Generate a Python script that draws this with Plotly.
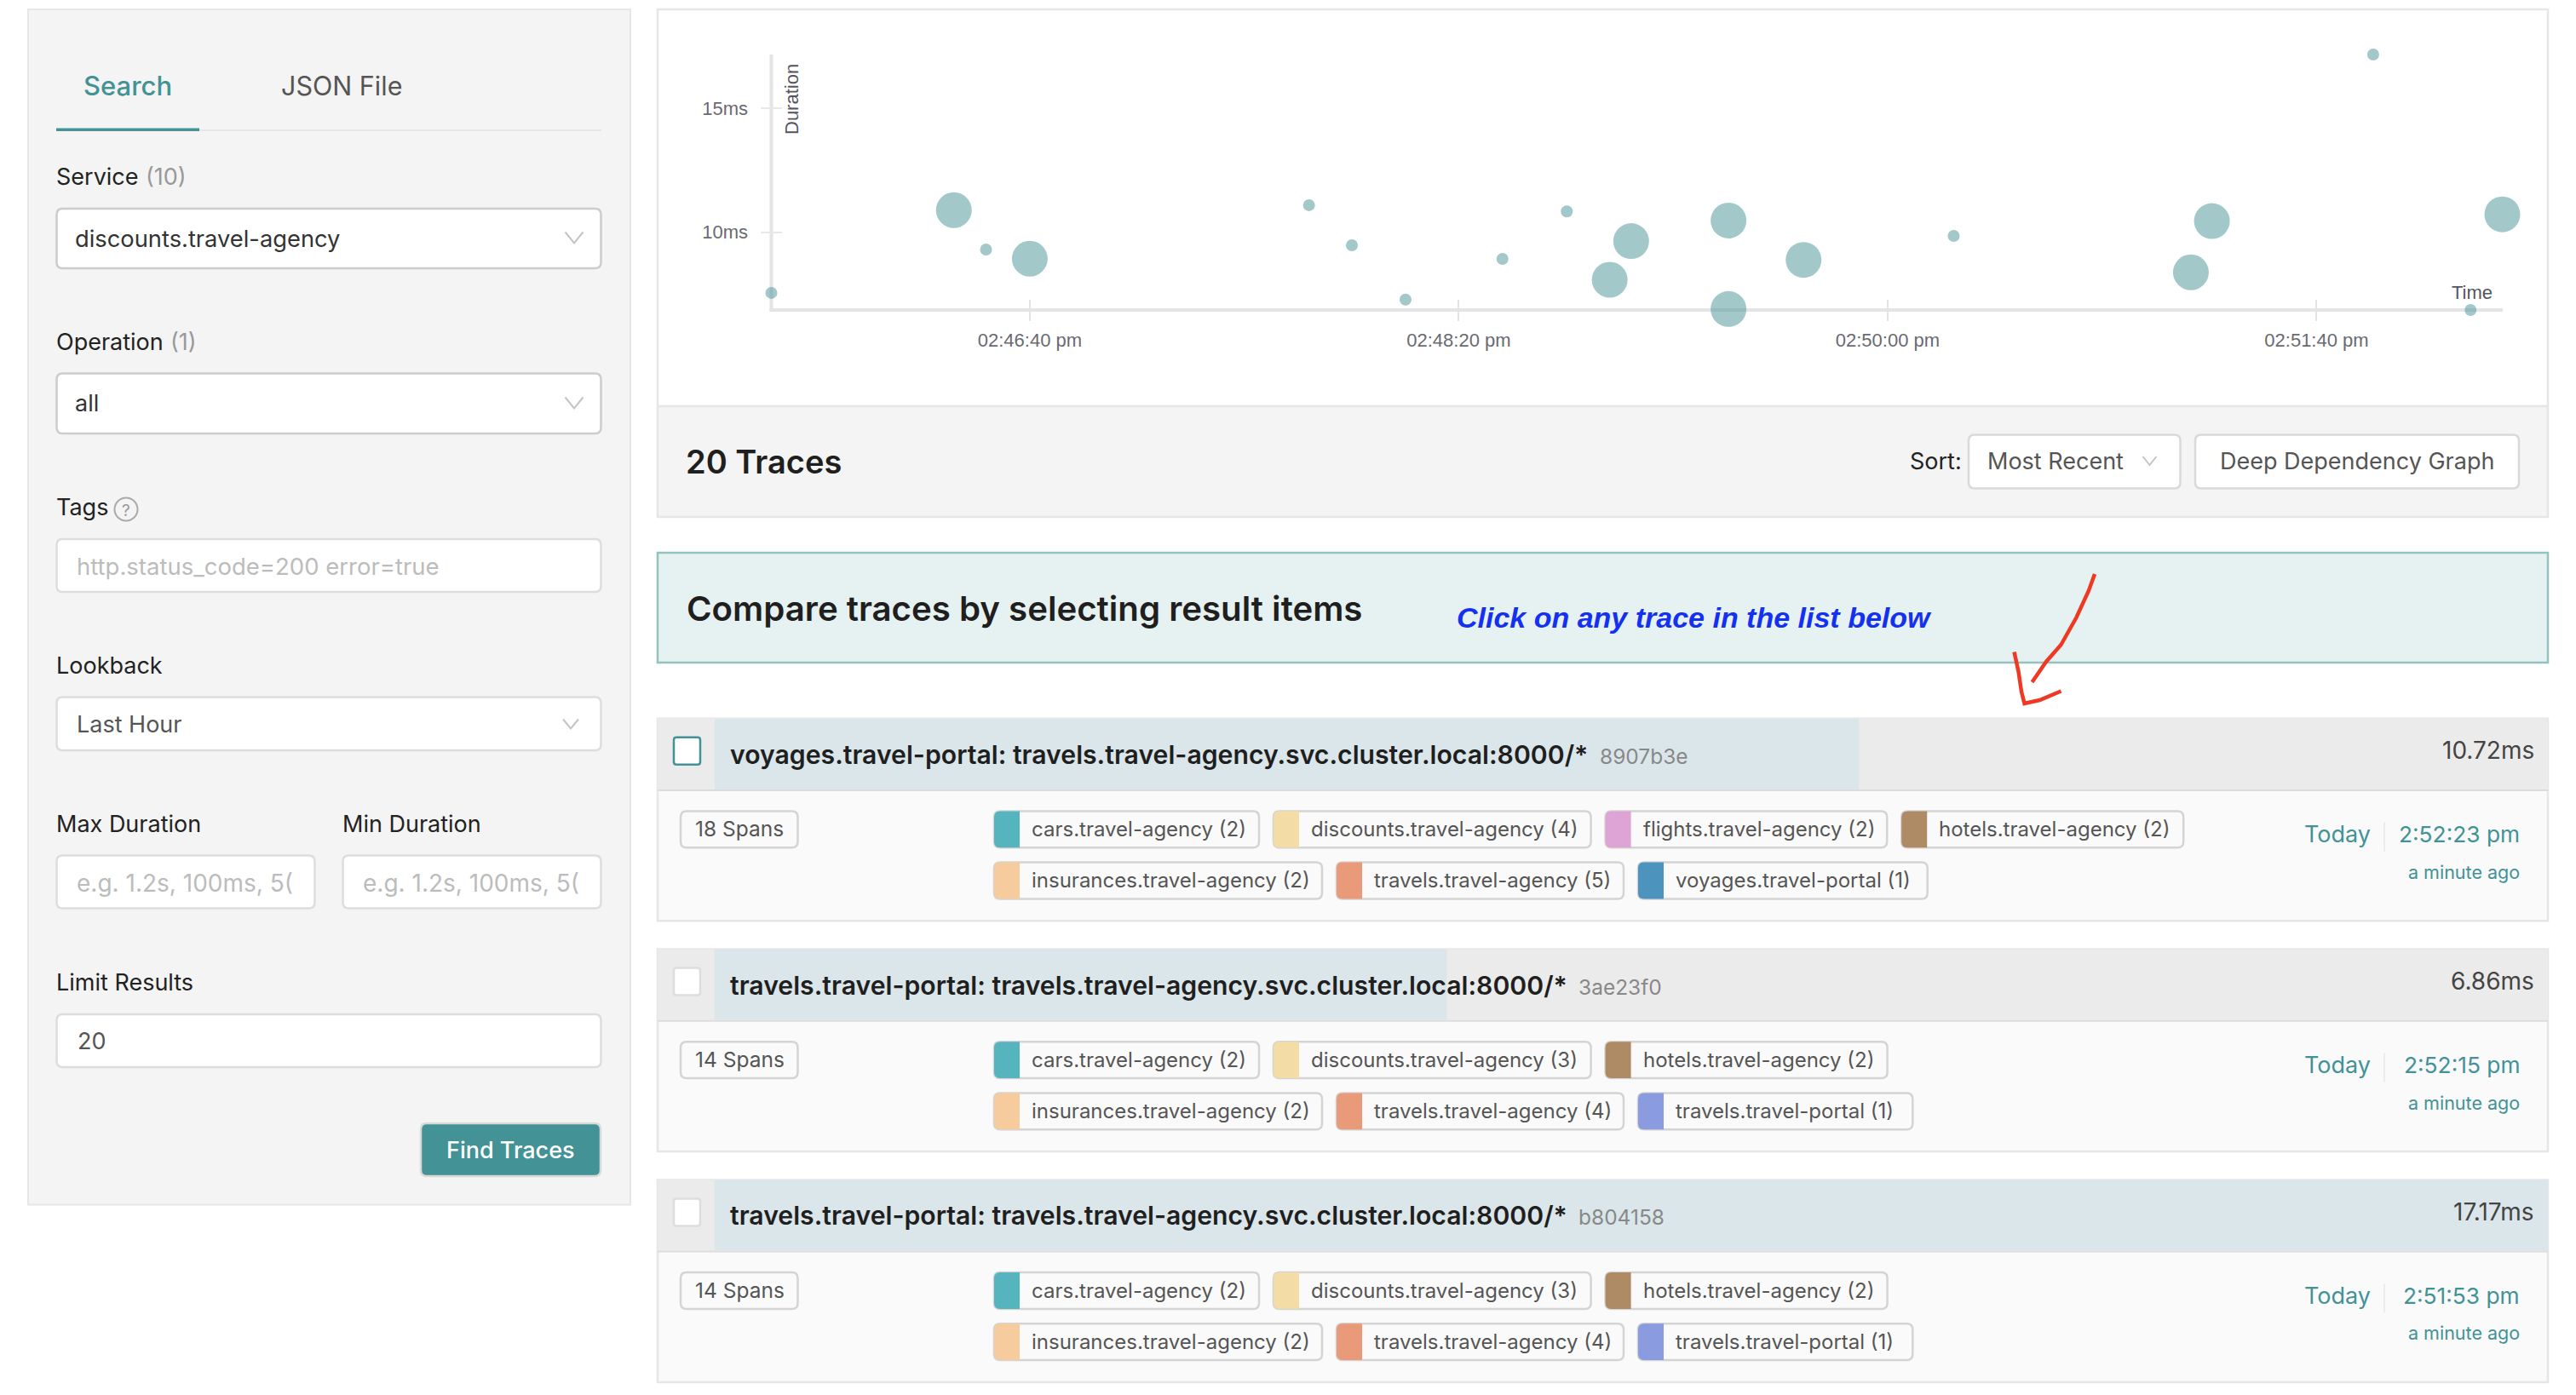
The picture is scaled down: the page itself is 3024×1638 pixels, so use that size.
import plotly.graph_objects as go

PAGE_W = 3024
PAGE_H = 1638
TEAL = "#429296"
FONT = "Inter"
CHART_FONT = "Liberation Sans"

# scatter plot values: one dot per trace, dot size follows the span count
DAY = "2021-06-01"
BUBBLE_TIMES = [
    "14:45:39.75", "14:46:22.3", "14:46:29.8", "14:46:40.0", "14:47:45.1",
    "14:47:55.1", "14:48:07.6", "14:48:30.2", "14:48:45.2", "14:48:55.2",
    "14:49:00.2", "14:49:22.9", "14:49:22.9", "14:49:40.4", "14:50:15.4",
    "14:51:10.7", "14:51:15.6", "14:51:53.2", "14:52:15.9", "14:52:23.3",
]
BUBBLE_DURATIONS = [
    7.55, 10.89, 9.30, 8.93, 11.09, 9.47, 7.28, 8.92, 10.84, 8.08,
    9.64, 10.47, 6.90, 8.88, 9.85, 8.38, 10.45, 17.17, 6.86, 10.72,
]
BUBBLE_SPANS = [14, 18, 14, 18, 14, 14, 14, 14, 14, 18, 18, 18, 18, 18, 14, 18, 18, 14, 14, 18]
X_TICK_TIMES = ["14:46:40", "14:48:20", "14:50:00", "14:51:40"]
X_TICK_LABELS = ["02:46:40 pm", "02:48:20 pm", "02:50:00 pm", "02:51:40 pm"]
Y_TICK_VALUES = [10, 15]
Y_TICK_LABELS = ["10ms", "15ms"]

# result list
TRACE_TITLES = [
    "voyages.travel-portal: travels.travel-agency.svc.cluster.local:8000/*",
    "travels.travel-portal: travels.travel-agency.svc.cluster.local:8000/*",
    "travels.travel-portal: travels.travel-agency.svc.cluster.local:8000/*",
]
TRACE_IDS = ["8907b3e", "3ae23f0", "b804158"]
TRACE_DURATIONS = [10.72, 6.86, 17.17]
TRACE_SPANS = [18, 14, 14]
TRACE_CLOCK = ["2:52:23 pm", "2:52:15 pm", "2:51:53 pm"]
TRACE_SERVICES = [
    [
        [("cars.travel-agency", 2), ("discounts.travel-agency", 4), ("flights.travel-agency", 2), ("hotels.travel-agency", 2)],
        [("insurances.travel-agency", 2), ("travels.travel-agency", 5), ("voyages.travel-portal", 1)],
    ],
    [
        [("cars.travel-agency", 2), ("discounts.travel-agency", 3), ("hotels.travel-agency", 2)],
        [("insurances.travel-agency", 2), ("travels.travel-agency", 4), ("travels.travel-portal", 1)],
    ],
    [
        [("cars.travel-agency", 2), ("discounts.travel-agency", 3), ("hotels.travel-agency", 2)],
        [("insurances.travel-agency", 2), ("travels.travel-agency", 4), ("travels.travel-portal", 1)],
    ],
]
SERVICE_COLORS = {
    "cars.travel-agency": "#55b4bd",
    "discounts.travel-agency": "#f3dca6",
    "flights.travel-agency": "#dda4d5",
    "hotels.travel-agency": "#ae8b65",
    "insurances.travel-agency": "#f6cb9e",
    "travels.travel-agency": "#e99a78",
    "voyages.travel-portal": "#4c94bd",
    "travels.travel-portal": "#8a9bdf",
}
TAG_WIDTHS = {
    "cars.travel-agency": 311,
    "discounts.travel-agency": 372.6,
    "flights.travel-agency": 330.6,
    "hotels.travel-agency": 331,
    "insurances.travel-agency": 385,
    "travels.travel-agency": 337,
    "voyages.travel-portal": 339.7,
    "travels.travel-portal": 322.3,
}

# hand drawn red arrow, screenshot pixels
ARROW_SHAFT = [(2459, 674), (2452, 693.5), (2437.5, 725), (2419.5, 757), (2402, 777), (2385.5, 801)]
ARROW_HEAD = [(2364.5, 765.5), (2369.5, 788.5), (2373, 812), (2376.5, 826), (2394.5, 822), (2419.5, 811.5)]

# page geometry, in screenshot pixels
PANEL_X0 = 772
PANEL_X1 = 2991
BAR_X0 = 838.5
ROW_TOP = 843.8
ROW_PITCH = 270.8
ROW_HEAD_H = 83.2
CHART_X0 = 905.5
CHART_X1 = 2938
CHART_Y0 = 64
CHART_Y1 = 364

shapes = []
annotations = []


def px(x):
    return x / PAGE_W


def py(y):
    return 1 - y / PAGE_H


def rect(x0, y0, x1, y1, fill, line=None, width=2):
    shapes.append(dict(
        type="rect", xref="paper", yref="paper", layer="below",
        x0=px(x0), y0=py(y0), x1=px(x1), y1=py(y1), fillcolor=fill,
        line=dict(color=line, width=width) if line else dict(width=0),
    ))


def round_rect(x0, y0, x1, y1, fill, line="#d4d4d4", width=2.5, r=7, right=True):
    rr = r if right else 0
    pts = [
        f"M{px(x0 + r)},{py(y0)}",
        f"L{px(x1 - rr)},{py(y0)}",
        f"Q{px(x1)},{py(y0)} {px(x1)},{py(y0 + rr)}",
        f"L{px(x1)},{py(y1 - rr)}",
        f"Q{px(x1)},{py(y1)} {px(x1 - rr)},{py(y1)}",
        f"L{px(x0 + r)},{py(y1)}",
        f"Q{px(x0)},{py(y1)} {px(x0)},{py(y1 - r)}",
        f"L{px(x0)},{py(y0 + r)}",
        f"Q{px(x0)},{py(y0)} {px(x0 + r)},{py(y0)}",
        "Z",
    ]
    shapes.append(dict(
        type="path", xref="paper", yref="paper", layer="below", path=" ".join(pts),
        fillcolor=fill, line=dict(color=line, width=width) if line else dict(width=0),
    ))


def polyline(points, color, width):
    path = "M" + " L".join(f"{px(x)},{py(y)}" for x, y in points)
    shapes.append(dict(
        type="path", xref="paper", yref="paper", layer="below", path=path,
        line=dict(color=color, width=width),
    ))


def chevron(cx, cy, w, h, color="#c4c4c4"):
    polyline([(cx - w / 2, cy - h / 2), (cx, cy + h / 2), (cx + w / 2, cy - h / 2)], color, 2)


def label(x, y, text, size=27, color="#222222", anchor="left", family=FONT, weight=None, style=None):
    # left aligned text sits a little right of the pixel
    if anchor == "left":
        x -= 1.5
    annotations.append(dict(
        xref="paper", yref="paper", x=px(x), y=py(y), text=text, showarrow=False,
        xanchor=anchor, yanchor="middle", borderpad=0, align=anchor,
        font=dict(family=family, size=size, color=color, weight=weight, style=style),
    ))


def draw_search_form():
    rect(33, 11, 740, 1414.5, "#f4f4f4", "#e6e6e6", 2)
    # tabs
    label(98.5, 100.5, "Search", 31, TEAL, weight=500)
    label(330, 100.5, "JSON File", 30.5, "#555555")
    rect(66, 152, 706, 154, "#e6e6e6")
    rect(66, 150.5, 234, 154, TEAL)

    # service / operation selects
    label(66.5, 207.5, "Service")
    label(171.5, 207.5, "(10)", color="#999999")
    round_rect(66.5, 245, 705.5, 315, "#ffffff", "#cccccc")
    label(88, 280, "discounts.travel-agency", 27.3, color="#333333")
    chevron(674, 279, 21, 13)

    label(66.5, 401.5, "Operation")
    label(200.5, 401.5, "(1)", color="#999999")
    round_rect(66.5, 438.5, 705.5, 509, "#ffffff", "#cccccc")
    label(88, 473.5, "all", color="#333333")
    chevron(674, 473, 21, 13)

    # tags
    label(66.5, 595, "Tags")
    shapes.append(dict(
        type="circle", xref="paper", yref="paper", layer="below",
        x0=px(134.5), x1=px(161.5), y0=py(584.5), y1=py(611.5),
        fillcolor="rgba(0,0,0,0)", line=dict(color="#aaaaaa", width=2),
    ))
    label(148, 599, "?", 19, "#999999", anchor="center")
    round_rect(66.5, 633, 705.5, 695, "#ffffff", "#dddddd")
    label(90.5, 665, "http.status_code=200 error=true", 27.5, color="#bcbcbc")

    # lookback
    label(66.5, 781.5, "Lookback")
    round_rect(66.5, 818.5, 705.5, 881, "#ffffff", "#dddddd")
    label(90.5, 850, "Last Hour", color="#555555")
    chevron(670, 850, 18, 11)

    # durations
    label(66.5, 967.5, "Max Duration")
    label(402.5, 967.5, "Min Duration")
    round_rect(66.5, 1004.5, 369.5, 1066.5, "#ffffff", "#dddddd")
    round_rect(402.5, 1004.5, 705.5, 1066.5, "#ffffff", "#dddddd")
    label(90.5, 1037, "e.g. 1.2s, 100ms, 5(", 28, color="#bcbcbc")
    label(426, 1037, "e.g. 1.2s, 100ms, 5(", 28, color="#bcbcbc")

    # limit
    label(66.5, 1153, "Limit Results")
    round_rect(66.5, 1191, 705.5, 1253, "#ffffff", "#dddddd")
    label(91, 1222.5, "20", color="#555555")

    round_rect(494, 1319, 705, 1381, TEAL, "#d9d9d9")
    label(599.5, 1350.5, "Find Traces", color="#ffffff", anchor="center", weight=500)


def draw_header_panels():
    rect(PANEL_X0, 11, PANEL_X1, 477, "#ffffff", "#e6e6e6", 2.5)
    rect(PANEL_X0, 477, PANEL_X1, 607, "#f4f4f4", "#e6e6e6", 2.5)
    label(806, 542, "20 Traces", 38, "#1f1f1f", weight=600)
    label(2242, 541.5, "Sort:", 27, "#222222")
    round_rect(2311, 510.5, 2559.5, 573.5, "#ffffff", "#d9d9d9")
    label(2333.5, 541.5, "Most Recent", 27, "#555555")
    chevron(2523.5, 541, 16, 10)
    round_rect(2577, 510.5, 2957, 573.5, "#ffffff", "#d9d9d9")
    label(2767, 541.5, "Deep Dependency Graph", 27, "#555555", anchor="center")

    rect(PANEL_X0, 649, PANEL_X1, 778, "#e6f2f1", "#93c3bf", 2.5)
    label(806, 714, "Compare traces by selecting result items", 40.2, "#1f1f1f", weight=600)
    label(1710, 725, "Click on any trace in the list below", 34, "#1430f0",
          family=CHART_FONT, weight="bold", style="italic")

    polyline(ARROW_SHAFT, "#ee3a24", 4.5)
    polyline(ARROW_HEAD, "#ee3a24", 4.5)


def draw_trace_row(i):
    top = ROW_TOP + i * ROW_PITCH
    head_bottom = top + ROW_HEAD_H
    bottom = top + 237.5
    rect(PANEL_X0, top, PANEL_X1, bottom, "#fafafa", "#e6e6e6", 2.5)
    rect(PANEL_X0, top, PANEL_X1, head_bottom, "#ebebeb")
    rect(PANEL_X0, head_bottom, PANEL_X1, head_bottom + 2, "#dcdcdc")

    # checkbox, the first row is the one hovered
    box_line = TEAL if i == 0 else "#dddddd"
    round_rect(791, top + 22, 822, top + 54, "#ffffff", box_line, 2.5, r=3)

    label(857, top + 42, TRACE_TITLES[i], 30.2, "#1f1f1f", weight=600)
    label(1878 if i == 0 else 1853, top + 44, TRACE_IDS[i], 24.5, "#888888")
    label(2976, top + 37.5, f"{TRACE_DURATIONS[i]}ms", 28, "#444444", anchor="right")

    # span count
    round_rect(799, top + 108.7, 936.5, top + 151.5, "#fafafa")
    label(868, top + 129.5, f"{TRACE_SPANS[i]} Spans", 24.5, "#555555", anchor="center")

    # service tags
    for line_no, services in enumerate(TRACE_SERVICES[i]):
        y0 = top + 108.7 + line_no * 60.1
        y1 = y0 + 42.8
        x = 1167
        for name, count in services:
            width = TAG_WIDTHS[name]
            round_rect(x, y0, x + width, y1, "#fafafa")
            round_rect(x, y0, x + 30, y1, SERVICE_COLORS[name], None, 0, right=False)
            label(x + 44.5, (y0 + y1) / 2 - 0.5, f"{name} ({count})", 24, "#555555")
            x += width + 17

    # start time
    label(2705, top + 136, "Today", 27, TEAL)
    rect(2798.5, top + 122, 2799.5, top + 156, "#dddddd")
    label(2959, top + 136, TRACE_CLOCK[i], 26.3, TEAL, anchor="right")
    label(2959, top + 180, "a minute ago", 21.5, TEAL, anchor="right")


draw_search_form()
draw_header_panels()
for row in range(len(TRACE_TITLES)):
    draw_trace_row(row)

# chart axes lines
rect(CHART_X0 - 2, CHART_Y0, CHART_X0 + 2, CHART_Y1 + 2, "#e4e4e6")
rect(CHART_X0 - 2, CHART_Y1 - 2, CHART_X1, CHART_Y1 + 2, "#e4e4e6")
label(930, 117, "Duration", 22, "#55555f", anchor="center", family=CHART_FONT)
annotations[-1]["textangle"] = -90
label(2901.5, 343, "Time", 22, "#55555f", anchor="center", family=CHART_FONT)

fig = go.Figure()

fig.add_trace(
    go.Scatter(
        x=[f"{DAY} {t}" for t in BUBBLE_TIMES],
        y=BUBBLE_DURATIONS,
        mode="markers",
        marker=dict(
            size=[42 if s == 18 else 14 for s in BUBBLE_SPANS],
            color="rgba(70,145,150,0.5)",
            opacity=1,
            line=dict(width=0),
        ),
        cliponaxis=False,
        xaxis="x",
        yaxis="y",
    )
)

# duration bars behind the trace titles, scaled to the longest trace
fig.add_trace(
    go.Bar(
        x=TRACE_DURATIONS,
        y=list(range(len(TRACE_DURATIONS))),
        orientation="h",
        width=ROW_HEAD_H / ROW_PITCH,
        marker=dict(color="#dbe6ea", line=dict(width=0)),
        xaxis="x2",
        yaxis="y2",
    )
)

bars_y1 = ROW_TOP + 2 * ROW_PITCH + ROW_HEAD_H
half = ROW_HEAD_H / 2 / ROW_PITCH

fig.update_layout(
    width=PAGE_W,
    height=PAGE_H,
    margin=dict(l=0, r=0, t=0, b=0),
    paper_bgcolor="#ffffff",
    plot_bgcolor="rgba(0,0,0,0)",
    showlegend=False,
    shapes=shapes,
    annotations=annotations,
    xaxis=dict(
        domain=[px(CHART_X0), px(CHART_X1)],
        type="date",
        range=[f"{DAY} 14:45:39.75", f"{DAY} 14:52:23.4"],
        tickvals=[f"{DAY} {t}" for t in X_TICK_TIMES],
        ticktext=X_TICK_LABELS,
        ticks="outside",
        ticklen=12,
        tickwidth=2,
        tickcolor="#e4e4e6",
        minor=dict(
            ticks="inside",
            ticklen=12,
            tickwidth=2,
            tickcolor="#e4e4e6",
            tickvals=[f"{DAY} {t}" for t in X_TICK_TIMES],
        ),
        tickfont=dict(family=CHART_FONT, size=22, color="#6a6a72"),
        ticklabelstandoff=4,
        showgrid=False,
        zeroline=False,
        showline=False,
        anchor="y",
    ),
    yaxis=dict(
        domain=[py(CHART_Y1), py(CHART_Y0)],
        range=[6.86, 17.17],
        tickvals=Y_TICK_VALUES,
        ticktext=Y_TICK_LABELS,
        ticks="outside",
        ticklen=12,
        tickwidth=2,
        tickcolor="#e8e8e8",
        minor=dict(ticks="inside", ticklen=12, tickwidth=2, tickcolor="#e8e8e8", tickvals=Y_TICK_VALUES),
        tickfont=dict(family=CHART_FONT, size=22, color="#6a6a72"),
        ticklabelstandoff=10,
        showgrid=False,
        zeroline=False,
        showline=False,
        anchor="x",
    ),
    xaxis2=dict(
        domain=[px(BAR_X0), px(PANEL_X1)],
        range=[0, max(TRACE_DURATIONS)],
        visible=False,
        anchor="y2",
    ),
    yaxis2=dict(
        domain=[py(bars_y1), py(ROW_TOP)],
        range=[2 + half, -half],
        visible=False,
        anchor="x2",
    ),
)

fig.write_html(
    "out.html",
    config={"displayModeBar": False},
    post_script="document.body.style.margin='0';",
)
